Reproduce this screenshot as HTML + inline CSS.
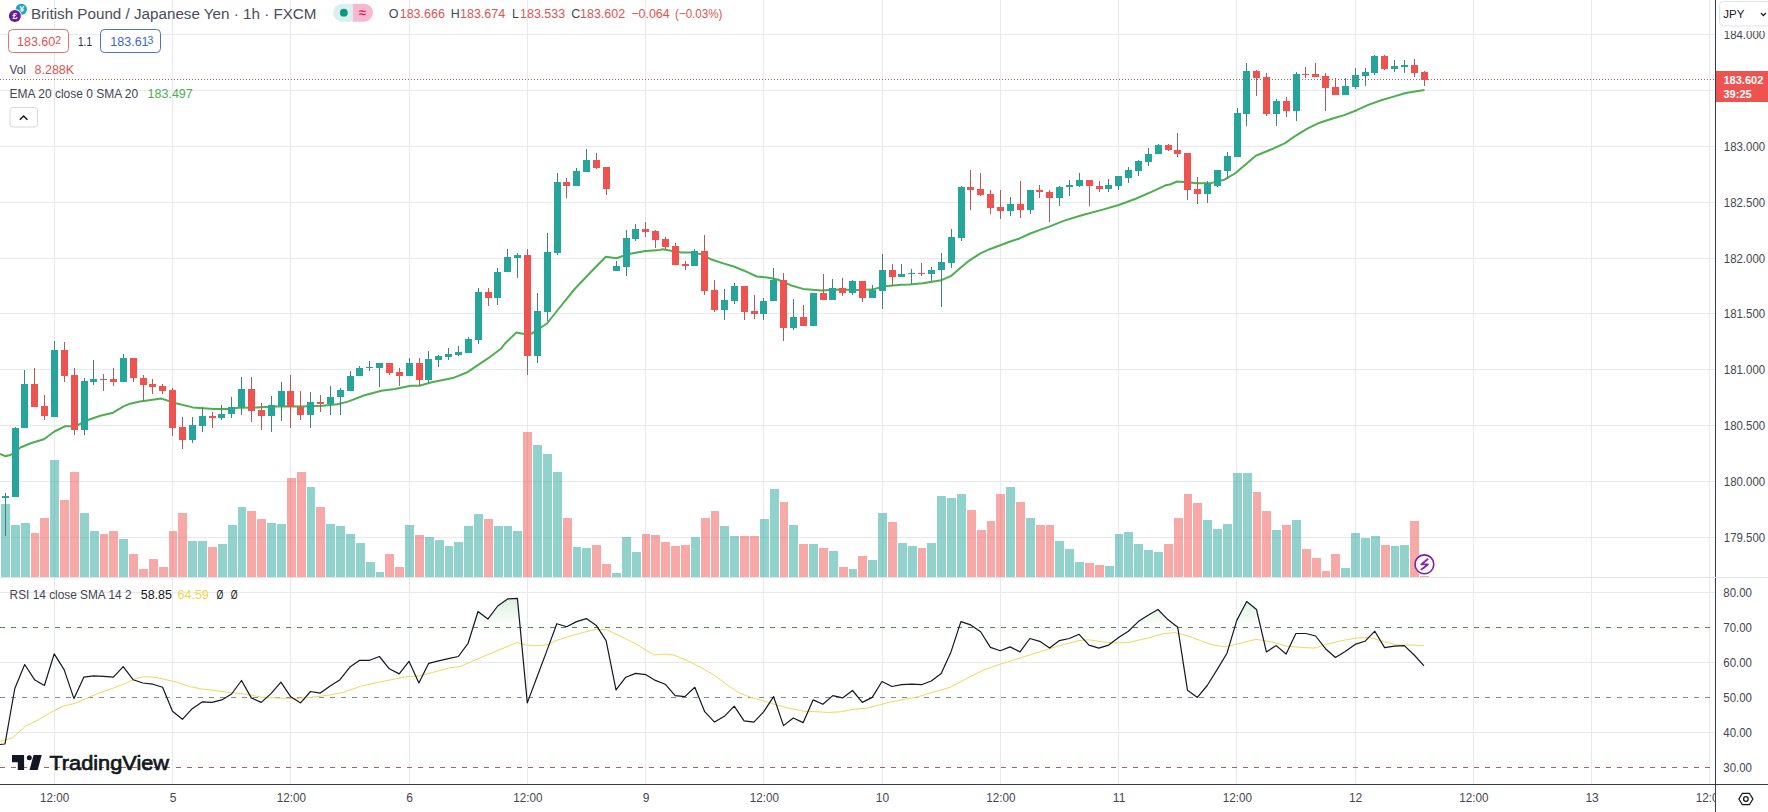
<!DOCTYPE html>
<html><head><meta charset="utf-8"><title>GBPJPY</title>
<style>html,body{margin:0;padding:0;background:#fff;}body{width:1768px;height:812px;overflow:hidden;position:relative;font-family:"Liberation Sans", sans-serif;}</style>
</head><body>
<svg width="1768" height="812" viewBox="0 0 1768 812" style="position:absolute;left:0;top:0"><defs><linearGradient id="gf" x1="0" y1="522" x2="0" y2="627.4" gradientUnits="userSpaceOnUse"><stop offset="0" stop-color="#4caf50" stop-opacity="0.7"/><stop offset="1" stop-color="#4caf50" stop-opacity="0"/></linearGradient><clipPath id="c70"><rect x="0" y="578" width="1715" height="49.5"/></clipPath><clipPath id="cmain"><rect x="0" y="0" width="1715" height="577"/></clipPath><clipPath id="crsi"><rect x="0" y="578" width="1715" height="206"/></clipPath></defs><g shape-rendering="crispEdges"><rect x="54" y="0" width="1" height="577" fill="#e8e9ed"/><rect x="54" y="578" width="1" height="206" fill="#e8e9ed"/><rect x="172" y="0" width="1" height="577" fill="#e8e9ed"/><rect x="172" y="578" width="1" height="206" fill="#e8e9ed"/><rect x="290" y="0" width="1" height="577" fill="#e8e9ed"/><rect x="290" y="578" width="1" height="206" fill="#e8e9ed"/><rect x="409" y="0" width="1" height="577" fill="#e8e9ed"/><rect x="409" y="578" width="1" height="206" fill="#e8e9ed"/><rect x="527" y="0" width="1" height="577" fill="#e8e9ed"/><rect x="527" y="578" width="1" height="206" fill="#e8e9ed"/><rect x="645" y="0" width="1" height="577" fill="#e8e9ed"/><rect x="645" y="578" width="1" height="206" fill="#e8e9ed"/><rect x="763" y="0" width="1" height="577" fill="#e8e9ed"/><rect x="763" y="578" width="1" height="206" fill="#e8e9ed"/><rect x="882" y="0" width="1" height="577" fill="#e8e9ed"/><rect x="882" y="578" width="1" height="206" fill="#e8e9ed"/><rect x="1000" y="0" width="1" height="577" fill="#e8e9ed"/><rect x="1000" y="578" width="1" height="206" fill="#e8e9ed"/><rect x="1118" y="0" width="1" height="577" fill="#e8e9ed"/><rect x="1118" y="578" width="1" height="206" fill="#e8e9ed"/><rect x="1236" y="0" width="1" height="577" fill="#e8e9ed"/><rect x="1236" y="578" width="1" height="206" fill="#e8e9ed"/><rect x="1355" y="0" width="1" height="577" fill="#e8e9ed"/><rect x="1355" y="578" width="1" height="206" fill="#e8e9ed"/><rect x="1473" y="0" width="1" height="577" fill="#e8e9ed"/><rect x="1473" y="578" width="1" height="206" fill="#e8e9ed"/><rect x="1591" y="0" width="1" height="577" fill="#e8e9ed"/><rect x="1591" y="578" width="1" height="206" fill="#e8e9ed"/><rect x="1709" y="0" width="1" height="577" fill="#e8e9ed"/><rect x="1709" y="578" width="1" height="206" fill="#e8e9ed"/><rect x="0" y="34" width="1715" height="1" fill="#e8e9ed"/><rect x="0" y="90" width="1715" height="1" fill="#e8e9ed"/><rect x="0" y="146" width="1715" height="1" fill="#e8e9ed"/><rect x="0" y="202" width="1715" height="1" fill="#e8e9ed"/><rect x="0" y="258" width="1715" height="1" fill="#e8e9ed"/><rect x="0" y="313" width="1715" height="1" fill="#e8e9ed"/><rect x="0" y="369" width="1715" height="1" fill="#e8e9ed"/><rect x="0" y="425" width="1715" height="1" fill="#e8e9ed"/><rect x="0" y="481" width="1715" height="1" fill="#e8e9ed"/><rect x="0" y="537" width="1715" height="1" fill="#e8e9ed"/><rect x="0" y="592" width="1715" height="1" fill="#e8e9ed"/><rect x="0" y="662" width="1715" height="1" fill="#e8e9ed"/><rect x="0" y="732" width="1715" height="1" fill="#e8e9ed"/></g><g shape-rendering="crispEdges" clip-path="url(#cmain)"><rect x="1" y="504" width="9" height="73" fill="rgba(38,166,154,0.5)"/><rect x="11" y="525" width="9" height="52" fill="rgba(38,166,154,0.5)"/><rect x="21" y="523" width="9" height="54" fill="rgba(38,166,154,0.5)"/><rect x="31" y="533" width="8" height="44" fill="rgba(239,83,80,0.5)"/><rect x="40" y="518" width="9" height="59" fill="rgba(239,83,80,0.5)"/><rect x="50" y="460" width="9" height="117" fill="rgba(38,166,154,0.5)"/><rect x="60" y="500" width="9" height="77" fill="rgba(239,83,80,0.5)"/><rect x="70" y="472" width="9" height="105" fill="rgba(239,83,80,0.5)"/><rect x="80" y="513" width="9" height="64" fill="rgba(38,166,154,0.5)"/><rect x="90" y="531" width="9" height="46" fill="rgba(38,166,154,0.5)"/><rect x="100" y="534" width="8" height="43" fill="rgba(239,83,80,0.5)"/><rect x="109" y="531" width="9" height="46" fill="rgba(239,83,80,0.5)"/><rect x="119" y="539" width="9" height="38" fill="rgba(38,166,154,0.5)"/><rect x="129" y="554" width="9" height="23" fill="rgba(239,83,80,0.5)"/><rect x="139" y="569" width="9" height="8" fill="rgba(239,83,80,0.5)"/><rect x="149" y="559" width="9" height="18" fill="rgba(239,83,80,0.5)"/><rect x="159" y="567" width="9" height="10" fill="rgba(239,83,80,0.5)"/><rect x="169" y="531" width="8" height="46" fill="rgba(239,83,80,0.5)"/><rect x="178" y="513" width="9" height="64" fill="rgba(239,83,80,0.5)"/><rect x="188" y="541" width="9" height="36" fill="rgba(38,166,154,0.5)"/><rect x="198" y="541" width="9" height="36" fill="rgba(38,166,154,0.5)"/><rect x="208" y="547" width="9" height="30" fill="rgba(239,83,80,0.5)"/><rect x="218" y="544" width="9" height="33" fill="rgba(38,166,154,0.5)"/><rect x="228" y="525" width="9" height="52" fill="rgba(38,166,154,0.5)"/><rect x="238" y="507" width="8" height="70" fill="rgba(38,166,154,0.5)"/><rect x="247" y="511" width="9" height="66" fill="rgba(239,83,80,0.5)"/><rect x="257" y="519" width="9" height="58" fill="rgba(239,83,80,0.5)"/><rect x="267" y="523" width="9" height="54" fill="rgba(38,166,154,0.5)"/><rect x="277" y="524" width="9" height="53" fill="rgba(38,166,154,0.5)"/><rect x="287" y="478" width="9" height="99" fill="rgba(239,83,80,0.5)"/><rect x="297" y="472" width="9" height="105" fill="rgba(239,83,80,0.5)"/><rect x="307" y="487" width="8" height="90" fill="rgba(38,166,154,0.5)"/><rect x="316" y="507" width="9" height="70" fill="rgba(239,83,80,0.5)"/><rect x="326" y="524" width="9" height="53" fill="rgba(38,166,154,0.5)"/><rect x="336" y="526" width="9" height="51" fill="rgba(38,166,154,0.5)"/><rect x="346" y="534" width="9" height="43" fill="rgba(38,166,154,0.5)"/><rect x="356" y="543" width="9" height="34" fill="rgba(38,166,154,0.5)"/><rect x="366" y="562" width="9" height="15" fill="rgba(38,166,154,0.5)"/><rect x="376" y="572" width="8" height="5" fill="rgba(38,166,154,0.5)"/><rect x="385" y="554" width="9" height="23" fill="rgba(239,83,80,0.5)"/><rect x="395" y="567" width="9" height="10" fill="rgba(239,83,80,0.5)"/><rect x="405" y="525" width="9" height="52" fill="rgba(38,166,154,0.5)"/><rect x="415" y="535" width="9" height="42" fill="rgba(239,83,80,0.5)"/><rect x="425" y="537" width="9" height="40" fill="rgba(38,166,154,0.5)"/><rect x="435" y="540" width="9" height="37" fill="rgba(38,166,154,0.5)"/><rect x="445" y="546" width="8" height="31" fill="rgba(38,166,154,0.5)"/><rect x="454" y="542" width="9" height="35" fill="rgba(38,166,154,0.5)"/><rect x="464" y="526" width="9" height="51" fill="rgba(38,166,154,0.5)"/><rect x="474" y="514" width="9" height="63" fill="rgba(38,166,154,0.5)"/><rect x="484" y="519" width="9" height="58" fill="rgba(239,83,80,0.5)"/><rect x="494" y="526" width="9" height="51" fill="rgba(38,166,154,0.5)"/><rect x="504" y="526" width="8" height="51" fill="rgba(38,166,154,0.5)"/><rect x="513" y="531" width="9" height="46" fill="rgba(38,166,154,0.5)"/><rect x="523" y="432" width="9" height="145" fill="rgba(239,83,80,0.5)"/><rect x="533" y="445" width="9" height="132" fill="rgba(38,166,154,0.5)"/><rect x="543" y="454" width="9" height="123" fill="rgba(38,166,154,0.5)"/><rect x="553" y="472" width="9" height="105" fill="rgba(38,166,154,0.5)"/><rect x="563" y="518" width="9" height="59" fill="rgba(239,83,80,0.5)"/><rect x="573" y="547" width="8" height="30" fill="rgba(38,166,154,0.5)"/><rect x="582" y="548" width="9" height="29" fill="rgba(38,166,154,0.5)"/><rect x="592" y="545" width="9" height="32" fill="rgba(239,83,80,0.5)"/><rect x="602" y="564" width="9" height="13" fill="rgba(239,83,80,0.5)"/><rect x="612" y="573" width="9" height="4" fill="rgba(38,166,154,0.5)"/><rect x="622" y="537" width="9" height="40" fill="rgba(38,166,154,0.5)"/><rect x="632" y="552" width="9" height="25" fill="rgba(38,166,154,0.5)"/><rect x="642" y="534" width="8" height="43" fill="rgba(239,83,80,0.5)"/><rect x="651" y="535" width="9" height="42" fill="rgba(239,83,80,0.5)"/><rect x="661" y="542" width="9" height="35" fill="rgba(239,83,80,0.5)"/><rect x="671" y="546" width="9" height="31" fill="rgba(239,83,80,0.5)"/><rect x="681" y="545" width="9" height="32" fill="rgba(239,83,80,0.5)"/><rect x="691" y="537" width="9" height="40" fill="rgba(38,166,154,0.5)"/><rect x="701" y="518" width="9" height="59" fill="rgba(239,83,80,0.5)"/><rect x="711" y="511" width="8" height="66" fill="rgba(239,83,80,0.5)"/><rect x="720" y="526" width="9" height="51" fill="rgba(38,166,154,0.5)"/><rect x="730" y="536" width="9" height="41" fill="rgba(38,166,154,0.5)"/><rect x="740" y="536" width="9" height="41" fill="rgba(239,83,80,0.5)"/><rect x="750" y="536" width="9" height="41" fill="rgba(239,83,80,0.5)"/><rect x="760" y="519" width="9" height="58" fill="rgba(38,166,154,0.5)"/><rect x="770" y="489" width="9" height="88" fill="rgba(38,166,154,0.5)"/><rect x="780" y="502" width="8" height="75" fill="rgba(239,83,80,0.5)"/><rect x="789" y="525" width="9" height="52" fill="rgba(38,166,154,0.5)"/><rect x="799" y="544" width="9" height="33" fill="rgba(239,83,80,0.5)"/><rect x="809" y="544" width="9" height="33" fill="rgba(38,166,154,0.5)"/><rect x="819" y="548" width="9" height="29" fill="rgba(239,83,80,0.5)"/><rect x="829" y="551" width="9" height="26" fill="rgba(38,166,154,0.5)"/><rect x="839" y="567" width="9" height="10" fill="rgba(239,83,80,0.5)"/><rect x="849" y="569" width="8" height="8" fill="rgba(38,166,154,0.5)"/><rect x="858" y="556" width="9" height="21" fill="rgba(239,83,80,0.5)"/><rect x="868" y="560" width="9" height="17" fill="rgba(38,166,154,0.5)"/><rect x="878" y="513" width="9" height="64" fill="rgba(38,166,154,0.5)"/><rect x="888" y="522" width="9" height="55" fill="rgba(239,83,80,0.5)"/><rect x="898" y="543" width="9" height="34" fill="rgba(38,166,154,0.5)"/><rect x="908" y="546" width="9" height="31" fill="rgba(38,166,154,0.5)"/><rect x="918" y="548" width="8" height="29" fill="rgba(239,83,80,0.5)"/><rect x="927" y="543" width="9" height="34" fill="rgba(38,166,154,0.5)"/><rect x="937" y="496" width="9" height="81" fill="rgba(38,166,154,0.5)"/><rect x="947" y="498" width="9" height="79" fill="rgba(38,166,154,0.5)"/><rect x="957" y="494" width="9" height="83" fill="rgba(38,166,154,0.5)"/><rect x="967" y="510" width="9" height="67" fill="rgba(239,83,80,0.5)"/><rect x="977" y="530" width="9" height="47" fill="rgba(239,83,80,0.5)"/><rect x="987" y="521" width="8" height="56" fill="rgba(239,83,80,0.5)"/><rect x="996" y="494" width="9" height="83" fill="rgba(239,83,80,0.5)"/><rect x="1006" y="487" width="9" height="90" fill="rgba(38,166,154,0.5)"/><rect x="1016" y="502" width="9" height="75" fill="rgba(239,83,80,0.5)"/><rect x="1026" y="518" width="9" height="59" fill="rgba(38,166,154,0.5)"/><rect x="1036" y="525" width="9" height="52" fill="rgba(239,83,80,0.5)"/><rect x="1046" y="525" width="8" height="52" fill="rgba(239,83,80,0.5)"/><rect x="1055" y="541" width="9" height="36" fill="rgba(38,166,154,0.5)"/><rect x="1065" y="549" width="9" height="28" fill="rgba(38,166,154,0.5)"/><rect x="1075" y="562" width="9" height="15" fill="rgba(38,166,154,0.5)"/><rect x="1085" y="563" width="9" height="14" fill="rgba(239,83,80,0.5)"/><rect x="1095" y="565" width="9" height="12" fill="rgba(239,83,80,0.5)"/><rect x="1105" y="566" width="9" height="11" fill="rgba(38,166,154,0.5)"/><rect x="1115" y="534" width="8" height="43" fill="rgba(38,166,154,0.5)"/><rect x="1124" y="532" width="9" height="45" fill="rgba(38,166,154,0.5)"/><rect x="1134" y="544" width="9" height="33" fill="rgba(38,166,154,0.5)"/><rect x="1144" y="550" width="9" height="27" fill="rgba(38,166,154,0.5)"/><rect x="1154" y="552" width="9" height="25" fill="rgba(38,166,154,0.5)"/><rect x="1164" y="544" width="9" height="33" fill="rgba(239,83,80,0.5)"/><rect x="1174" y="518" width="9" height="59" fill="rgba(239,83,80,0.5)"/><rect x="1184" y="494" width="8" height="83" fill="rgba(239,83,80,0.5)"/><rect x="1193" y="503" width="9" height="74" fill="rgba(239,83,80,0.5)"/><rect x="1203" y="520" width="9" height="57" fill="rgba(38,166,154,0.5)"/><rect x="1213" y="529" width="9" height="48" fill="rgba(38,166,154,0.5)"/><rect x="1223" y="524" width="9" height="53" fill="rgba(38,166,154,0.5)"/><rect x="1233" y="473" width="9" height="104" fill="rgba(38,166,154,0.5)"/><rect x="1243" y="473" width="9" height="104" fill="rgba(38,166,154,0.5)"/><rect x="1253" y="492" width="8" height="85" fill="rgba(239,83,80,0.5)"/><rect x="1262" y="511" width="9" height="66" fill="rgba(239,83,80,0.5)"/><rect x="1272" y="530" width="9" height="47" fill="rgba(38,166,154,0.5)"/><rect x="1282" y="525" width="9" height="52" fill="rgba(239,83,80,0.5)"/><rect x="1292" y="520" width="9" height="57" fill="rgba(38,166,154,0.5)"/><rect x="1302" y="549" width="9" height="28" fill="rgba(239,83,80,0.5)"/><rect x="1312" y="558" width="9" height="19" fill="rgba(239,83,80,0.5)"/><rect x="1322" y="571" width="8" height="6" fill="rgba(239,83,80,0.5)"/><rect x="1331" y="554" width="9" height="23" fill="rgba(239,83,80,0.5)"/><rect x="1341" y="568" width="9" height="9" fill="rgba(38,166,154,0.5)"/><rect x="1351" y="533" width="9" height="44" fill="rgba(38,166,154,0.5)"/><rect x="1361" y="538" width="9" height="39" fill="rgba(38,166,154,0.5)"/><rect x="1371" y="536" width="9" height="41" fill="rgba(38,166,154,0.5)"/><rect x="1381" y="545" width="9" height="32" fill="rgba(239,83,80,0.5)"/><rect x="1391" y="546" width="8" height="31" fill="rgba(38,166,154,0.5)"/><rect x="1400" y="545" width="9" height="32" fill="rgba(38,166,154,0.5)"/><rect x="1410" y="521" width="9" height="56" fill="rgba(239,83,80,0.5)"/><rect x="1420" y="576" width="9" height="1" fill="rgba(239,83,80,0.5)"/></g><polyline points="0.0,453.9 5.2,456.2 10.5,455.0 20.9,447.2 31.4,443.0 43.9,439.2 54.4,431.5 64.9,426.3 75.3,426.3 87.9,420.0 100.4,415.8 113.0,412.7 123.5,406.4 130.0,403.7 140.0,401.6 161.4,398.6 176.0,403.2 192.8,407.4 213.7,408.9 228.0,409.0 238.8,407.8 255.5,407.4 281.0,406.2 301.8,406.4 322.8,405.8 337.4,404.3 347.9,401.6 364.6,395.3 381.4,390.7 395.0,389.0 410.9,385.8 419.3,385.8 431.8,382.3 452.8,378.1 467.4,372.2 477.9,365.1 488.3,358.2 500.9,348.8 505.0,343.5 516.4,332.4 524.0,334.0 531.7,333.6 547.0,323.5 557.7,310.0 574.7,289.0 591.1,271.8 605.8,256.8 616.3,258.2 628.8,254.0 645.5,250.9 660.0,249.9 662.6,249.3 671.0,250.8 681.4,252.5 691.8,252.5 700.2,253.9 710.7,259.2 723.2,263.4 733.7,266.5 744.2,270.7 756.7,276.5 767.2,277.4 777.6,279.5 790.5,285.2 803.0,288.9 821.8,290.4 838.6,289.6 855.3,290.0 872.0,289.6 884.6,286.2 901.4,284.7 910.0,284.5 922.6,283.3 941.4,280.2 950.8,276.2 960.2,268.1 969.6,260.3 980.0,253.6 989.6,249.2 1000.3,245.3 1011.7,241.0 1019.1,238.7 1030.2,233.5 1041.3,229.4 1048.7,226.9 1063.5,220.9 1081.8,215.2 1102.8,209.6 1119.5,204.7 1136.3,198.5 1150.9,192.2 1165.5,185.3 1170.0,184.5 1177.0,181.5 1186.7,182.2 1197.2,183.3 1211.8,182.9 1224.4,179.7 1234.9,173.5 1245.3,164.7 1255.8,155.7 1270.4,149.8 1285.1,143.1 1295.5,135.8 1307.3,128.7 1319.6,122.7 1331.9,118.8 1344.3,115.1 1356.6,110.2 1368.9,104.6 1381.2,100.3 1393.5,96.6 1405.8,93.0 1418.1,90.9 1424.5,89.9" fill="none" stroke="#4caf50" stroke-width="2" stroke-linejoin="round"/><g shape-rendering="crispEdges"><rect x="5" y="493" width="1" height="43" fill="#3f857e"/><rect x="2" y="496" width="7" height="2" fill="#26a69a"/><rect x="15" y="427" width="1" height="70" fill="#3f857e"/><rect x="12" y="428" width="7" height="69" fill="#26a69a"/><rect x="24" y="370" width="1" height="58" fill="#3f857e"/><rect x="21" y="384" width="7" height="44" fill="#26a69a"/><rect x="34" y="368" width="1" height="39" fill="#b05a5e"/><rect x="31" y="384" width="7" height="23" fill="#ef5350"/><rect x="44" y="395" width="1" height="25" fill="#b05a5e"/><rect x="41" y="406" width="7" height="10" fill="#ef5350"/><rect x="54" y="341" width="1" height="76" fill="#3f857e"/><rect x="51" y="350" width="7" height="67" fill="#26a69a"/><rect x="64" y="342" width="1" height="40" fill="#b05a5e"/><rect x="61" y="350" width="7" height="26" fill="#ef5350"/><rect x="74" y="368" width="1" height="67" fill="#b05a5e"/><rect x="71" y="375" width="7" height="55" fill="#ef5350"/><rect x="84" y="378" width="1" height="57" fill="#3f857e"/><rect x="81" y="381" width="7" height="49" fill="#26a69a"/><rect x="93" y="360" width="1" height="25" fill="#3f857e"/><rect x="90" y="379" width="7" height="3" fill="#26a69a"/><rect x="103" y="374" width="1" height="17" fill="#b05a5e"/><rect x="100" y="379" width="7" height="1" fill="#ef5350"/><rect x="113" y="368" width="1" height="18" fill="#b05a5e"/><rect x="110" y="379" width="7" height="3" fill="#ef5350"/><rect x="123" y="354" width="1" height="28" fill="#3f857e"/><rect x="120" y="358" width="7" height="24" fill="#26a69a"/><rect x="133" y="358" width="1" height="24" fill="#b05a5e"/><rect x="130" y="358" width="7" height="20" fill="#ef5350"/><rect x="143" y="375" width="1" height="26" fill="#b05a5e"/><rect x="140" y="378" width="7" height="7" fill="#ef5350"/><rect x="152" y="379" width="1" height="15" fill="#b05a5e"/><rect x="149" y="384" width="7" height="3" fill="#ef5350"/><rect x="162" y="384" width="1" height="10" fill="#b05a5e"/><rect x="159" y="386" width="7" height="5" fill="#ef5350"/><rect x="172" y="388" width="1" height="48" fill="#b05a5e"/><rect x="169" y="390" width="7" height="38" fill="#ef5350"/><rect x="182" y="417" width="1" height="32" fill="#b05a5e"/><rect x="179" y="427" width="7" height="13" fill="#ef5350"/><rect x="192" y="417" width="1" height="26" fill="#3f857e"/><rect x="189" y="425" width="7" height="15" fill="#26a69a"/><rect x="202" y="407" width="1" height="25" fill="#3f857e"/><rect x="199" y="416" width="7" height="10" fill="#26a69a"/><rect x="212" y="412" width="1" height="16" fill="#b05a5e"/><rect x="209" y="416" width="7" height="2" fill="#ef5350"/><rect x="221" y="405" width="1" height="15" fill="#3f857e"/><rect x="218" y="414" width="7" height="4" fill="#26a69a"/><rect x="231" y="397" width="1" height="21" fill="#3f857e"/><rect x="228" y="407" width="7" height="7" fill="#26a69a"/><rect x="241" y="377" width="1" height="38" fill="#3f857e"/><rect x="238" y="389" width="7" height="18" fill="#26a69a"/><rect x="251" y="377" width="1" height="45" fill="#b05a5e"/><rect x="248" y="389" width="7" height="22" fill="#ef5350"/><rect x="261" y="403" width="1" height="27" fill="#b05a5e"/><rect x="258" y="410" width="7" height="6" fill="#ef5350"/><rect x="271" y="396" width="1" height="36" fill="#3f857e"/><rect x="268" y="405" width="7" height="11" fill="#26a69a"/><rect x="281" y="382" width="1" height="39" fill="#3f857e"/><rect x="278" y="391" width="7" height="15" fill="#26a69a"/><rect x="290" y="375" width="1" height="53" fill="#b05a5e"/><rect x="287" y="391" width="7" height="16" fill="#ef5350"/><rect x="300" y="391" width="1" height="29" fill="#b05a5e"/><rect x="297" y="407" width="7" height="8" fill="#ef5350"/><rect x="310" y="392" width="1" height="36" fill="#3f857e"/><rect x="307" y="402" width="7" height="13" fill="#26a69a"/><rect x="320" y="395" width="1" height="17" fill="#b05a5e"/><rect x="317" y="402" width="7" height="2" fill="#ef5350"/><rect x="330" y="386" width="1" height="29" fill="#3f857e"/><rect x="327" y="397" width="7" height="7" fill="#26a69a"/><rect x="340" y="388" width="1" height="27" fill="#3f857e"/><rect x="337" y="390" width="7" height="7" fill="#26a69a"/><rect x="350" y="371" width="1" height="20" fill="#3f857e"/><rect x="347" y="376" width="7" height="15" fill="#26a69a"/><rect x="359" y="366" width="1" height="10" fill="#3f857e"/><rect x="356" y="368" width="7" height="8" fill="#26a69a"/><rect x="369" y="361" width="1" height="10" fill="#3f857e"/><rect x="366" y="367" width="7" height="1" fill="#26a69a"/><rect x="379" y="363" width="1" height="24" fill="#3f857e"/><rect x="376" y="363" width="7" height="5" fill="#26a69a"/><rect x="389" y="363" width="1" height="12" fill="#b05a5e"/><rect x="386" y="363" width="7" height="10" fill="#ef5350"/><rect x="399" y="368" width="1" height="18" fill="#b05a5e"/><rect x="396" y="372" width="7" height="4" fill="#ef5350"/><rect x="409" y="358" width="1" height="18" fill="#3f857e"/><rect x="406" y="363" width="7" height="13" fill="#26a69a"/><rect x="419" y="358" width="1" height="28" fill="#b05a5e"/><rect x="416" y="363" width="7" height="17" fill="#ef5350"/><rect x="428" y="351" width="1" height="32" fill="#3f857e"/><rect x="425" y="359" width="7" height="21" fill="#26a69a"/><rect x="438" y="355" width="1" height="12" fill="#3f857e"/><rect x="435" y="356" width="7" height="4" fill="#26a69a"/><rect x="448" y="348" width="1" height="12" fill="#3f857e"/><rect x="445" y="354" width="7" height="3" fill="#26a69a"/><rect x="458" y="346" width="1" height="10" fill="#3f857e"/><rect x="455" y="352" width="7" height="3" fill="#26a69a"/><rect x="468" y="337" width="1" height="16" fill="#3f857e"/><rect x="465" y="339" width="7" height="14" fill="#26a69a"/><rect x="478" y="288" width="1" height="56" fill="#3f857e"/><rect x="475" y="292" width="7" height="48" fill="#26a69a"/><rect x="488" y="288" width="1" height="18" fill="#b05a5e"/><rect x="485" y="292" width="7" height="6" fill="#ef5350"/><rect x="497" y="268" width="1" height="37" fill="#3f857e"/><rect x="494" y="272" width="7" height="26" fill="#26a69a"/><rect x="507" y="249" width="1" height="23" fill="#3f857e"/><rect x="504" y="257" width="7" height="15" fill="#26a69a"/><rect x="517" y="253" width="1" height="25" fill="#3f857e"/><rect x="514" y="255" width="7" height="3" fill="#26a69a"/><rect x="527" y="249" width="1" height="126" fill="#b05a5e"/><rect x="524" y="255" width="7" height="101" fill="#ef5350"/><rect x="537" y="293" width="1" height="70" fill="#3f857e"/><rect x="534" y="311" width="7" height="45" fill="#26a69a"/><rect x="547" y="233" width="1" height="88" fill="#3f857e"/><rect x="544" y="252" width="7" height="60" fill="#26a69a"/><rect x="557" y="173" width="1" height="82" fill="#3f857e"/><rect x="554" y="182" width="7" height="71" fill="#26a69a"/><rect x="566" y="178" width="1" height="20" fill="#b05a5e"/><rect x="563" y="182" width="7" height="4" fill="#ef5350"/><rect x="576" y="168" width="1" height="18" fill="#3f857e"/><rect x="573" y="171" width="7" height="15" fill="#26a69a"/><rect x="586" y="149" width="1" height="23" fill="#3f857e"/><rect x="583" y="160" width="7" height="12" fill="#26a69a"/><rect x="596" y="153" width="1" height="16" fill="#b05a5e"/><rect x="593" y="160" width="7" height="8" fill="#ef5350"/><rect x="606" y="167" width="1" height="28" fill="#b05a5e"/><rect x="603" y="167" width="7" height="22" fill="#ef5350"/><rect x="616" y="261" width="1" height="10" fill="#3f857e"/><rect x="613" y="266" width="7" height="5" fill="#26a69a"/><rect x="626" y="230" width="1" height="46" fill="#3f857e"/><rect x="623" y="238" width="7" height="29" fill="#26a69a"/><rect x="635" y="224" width="1" height="17" fill="#3f857e"/><rect x="632" y="229" width="7" height="10" fill="#26a69a"/><rect x="645" y="222" width="1" height="15" fill="#b05a5e"/><rect x="642" y="229" width="7" height="3" fill="#ef5350"/><rect x="655" y="230" width="1" height="18" fill="#b05a5e"/><rect x="652" y="231" width="7" height="9" fill="#ef5350"/><rect x="665" y="237" width="1" height="12" fill="#b05a5e"/><rect x="662" y="239" width="7" height="8" fill="#ef5350"/><rect x="675" y="243" width="1" height="22" fill="#b05a5e"/><rect x="672" y="246" width="7" height="19" fill="#ef5350"/><rect x="685" y="261" width="1" height="9" fill="#b05a5e"/><rect x="682" y="264" width="7" height="2" fill="#ef5350"/><rect x="694" y="249" width="1" height="17" fill="#3f857e"/><rect x="691" y="251" width="7" height="15" fill="#26a69a"/><rect x="704" y="235" width="1" height="60" fill="#b05a5e"/><rect x="701" y="251" width="7" height="40" fill="#ef5350"/><rect x="714" y="280" width="1" height="32" fill="#b05a5e"/><rect x="711" y="290" width="7" height="20" fill="#ef5350"/><rect x="724" y="289" width="1" height="31" fill="#3f857e"/><rect x="721" y="300" width="7" height="10" fill="#26a69a"/><rect x="734" y="283" width="1" height="21" fill="#3f857e"/><rect x="731" y="286" width="7" height="15" fill="#26a69a"/><rect x="744" y="286" width="1" height="34" fill="#b05a5e"/><rect x="741" y="286" width="7" height="26" fill="#ef5350"/><rect x="754" y="295" width="1" height="24" fill="#b05a5e"/><rect x="751" y="311" width="7" height="3" fill="#ef5350"/><rect x="763" y="298" width="1" height="22" fill="#3f857e"/><rect x="760" y="301" width="7" height="13" fill="#26a69a"/><rect x="773" y="268" width="1" height="33" fill="#3f857e"/><rect x="770" y="280" width="7" height="21" fill="#26a69a"/><rect x="783" y="273" width="1" height="68" fill="#b05a5e"/><rect x="780" y="280" width="7" height="48" fill="#ef5350"/><rect x="793" y="299" width="1" height="31" fill="#3f857e"/><rect x="790" y="317" width="7" height="11" fill="#26a69a"/><rect x="803" y="305" width="1" height="21" fill="#b05a5e"/><rect x="800" y="317" width="7" height="9" fill="#ef5350"/><rect x="813" y="293" width="1" height="33" fill="#3f857e"/><rect x="810" y="293" width="7" height="33" fill="#26a69a"/><rect x="823" y="274" width="1" height="26" fill="#b05a5e"/><rect x="820" y="293" width="7" height="7" fill="#ef5350"/><rect x="832" y="279" width="1" height="21" fill="#3f857e"/><rect x="829" y="288" width="7" height="12" fill="#26a69a"/><rect x="842" y="278" width="1" height="18" fill="#b05a5e"/><rect x="839" y="288" width="7" height="5" fill="#ef5350"/><rect x="852" y="280" width="1" height="15" fill="#3f857e"/><rect x="849" y="281" width="7" height="12" fill="#26a69a"/><rect x="862" y="281" width="1" height="21" fill="#b05a5e"/><rect x="859" y="281" width="7" height="17" fill="#ef5350"/><rect x="872" y="285" width="1" height="13" fill="#3f857e"/><rect x="869" y="290" width="7" height="8" fill="#26a69a"/><rect x="882" y="254" width="1" height="55" fill="#3f857e"/><rect x="879" y="270" width="7" height="21" fill="#26a69a"/><rect x="892" y="264" width="1" height="22" fill="#b05a5e"/><rect x="889" y="270" width="7" height="7" fill="#ef5350"/><rect x="901" y="264" width="1" height="13" fill="#3f857e"/><rect x="898" y="274" width="7" height="3" fill="#26a69a"/><rect x="911" y="269" width="1" height="15" fill="#3f857e"/><rect x="908" y="273" width="7" height="1" fill="#26a69a"/><rect x="921" y="263" width="1" height="13" fill="#b05a5e"/><rect x="918" y="273" width="7" height="1" fill="#ef5350"/><rect x="931" y="267" width="1" height="14" fill="#3f857e"/><rect x="928" y="270" width="7" height="4" fill="#26a69a"/><rect x="941" y="253" width="1" height="54" fill="#3f857e"/><rect x="938" y="262" width="7" height="8" fill="#26a69a"/><rect x="951" y="229" width="1" height="39" fill="#3f857e"/><rect x="948" y="237" width="7" height="26" fill="#26a69a"/><rect x="961" y="186" width="1" height="55" fill="#3f857e"/><rect x="958" y="187" width="7" height="51" fill="#26a69a"/><rect x="970" y="170" width="1" height="40" fill="#b05a5e"/><rect x="967" y="187" width="7" height="3" fill="#ef5350"/><rect x="980" y="173" width="1" height="23" fill="#b05a5e"/><rect x="977" y="189" width="7" height="6" fill="#ef5350"/><rect x="990" y="190" width="1" height="24" fill="#b05a5e"/><rect x="987" y="194" width="7" height="14" fill="#ef5350"/><rect x="1000" y="190" width="1" height="29" fill="#b05a5e"/><rect x="997" y="207" width="7" height="4" fill="#ef5350"/><rect x="1010" y="197" width="1" height="19" fill="#3f857e"/><rect x="1007" y="204" width="7" height="7" fill="#26a69a"/><rect x="1020" y="181" width="1" height="37" fill="#b05a5e"/><rect x="1017" y="204" width="7" height="6" fill="#ef5350"/><rect x="1030" y="190" width="1" height="24" fill="#3f857e"/><rect x="1027" y="190" width="7" height="20" fill="#26a69a"/><rect x="1039" y="185" width="1" height="13" fill="#b05a5e"/><rect x="1036" y="190" width="7" height="2" fill="#ef5350"/><rect x="1049" y="190" width="1" height="32" fill="#b05a5e"/><rect x="1046" y="192" width="7" height="6" fill="#ef5350"/><rect x="1059" y="186" width="1" height="20" fill="#3f857e"/><rect x="1056" y="187" width="7" height="11" fill="#26a69a"/><rect x="1069" y="180" width="1" height="16" fill="#3f857e"/><rect x="1066" y="185" width="7" height="2" fill="#26a69a"/><rect x="1079" y="173" width="1" height="14" fill="#3f857e"/><rect x="1076" y="180" width="7" height="6" fill="#26a69a"/><rect x="1089" y="180" width="1" height="26" fill="#b05a5e"/><rect x="1086" y="180" width="7" height="6" fill="#ef5350"/><rect x="1099" y="181" width="1" height="11" fill="#b05a5e"/><rect x="1096" y="186" width="7" height="3" fill="#ef5350"/><rect x="1108" y="179" width="1" height="13" fill="#3f857e"/><rect x="1105" y="185" width="7" height="4" fill="#26a69a"/><rect x="1118" y="176" width="1" height="14" fill="#3f857e"/><rect x="1115" y="176" width="7" height="10" fill="#26a69a"/><rect x="1128" y="167" width="1" height="16" fill="#3f857e"/><rect x="1125" y="170" width="7" height="8" fill="#26a69a"/><rect x="1138" y="160" width="1" height="16" fill="#3f857e"/><rect x="1135" y="161" width="7" height="10" fill="#26a69a"/><rect x="1148" y="148" width="1" height="18" fill="#3f857e"/><rect x="1145" y="154" width="7" height="8" fill="#26a69a"/><rect x="1158" y="144" width="1" height="10" fill="#3f857e"/><rect x="1155" y="145" width="7" height="9" fill="#26a69a"/><rect x="1168" y="144" width="1" height="7" fill="#b05a5e"/><rect x="1165" y="145" width="7" height="5" fill="#ef5350"/><rect x="1177" y="133" width="1" height="24" fill="#b05a5e"/><rect x="1174" y="150" width="7" height="4" fill="#ef5350"/><rect x="1187" y="153" width="1" height="47" fill="#b05a5e"/><rect x="1184" y="153" width="7" height="37" fill="#ef5350"/><rect x="1197" y="177" width="1" height="27" fill="#b05a5e"/><rect x="1194" y="189" width="7" height="5" fill="#ef5350"/><rect x="1207" y="181" width="1" height="22" fill="#3f857e"/><rect x="1204" y="184" width="7" height="10" fill="#26a69a"/><rect x="1217" y="170" width="1" height="17" fill="#3f857e"/><rect x="1214" y="170" width="7" height="16" fill="#26a69a"/><rect x="1227" y="152" width="1" height="27" fill="#3f857e"/><rect x="1224" y="156" width="7" height="15" fill="#26a69a"/><rect x="1237" y="108" width="1" height="49" fill="#3f857e"/><rect x="1234" y="113" width="7" height="44" fill="#26a69a"/><rect x="1246" y="63" width="1" height="63" fill="#3f857e"/><rect x="1243" y="71" width="7" height="43" fill="#26a69a"/><rect x="1256" y="70" width="1" height="26" fill="#b05a5e"/><rect x="1253" y="71" width="7" height="7" fill="#ef5350"/><rect x="1266" y="73" width="1" height="43" fill="#b05a5e"/><rect x="1263" y="77" width="7" height="37" fill="#ef5350"/><rect x="1276" y="99" width="1" height="27" fill="#3f857e"/><rect x="1273" y="101" width="7" height="13" fill="#26a69a"/><rect x="1286" y="97" width="1" height="20" fill="#b05a5e"/><rect x="1283" y="101" width="7" height="10" fill="#ef5350"/><rect x="1296" y="72" width="1" height="49" fill="#3f857e"/><rect x="1293" y="74" width="7" height="37" fill="#26a69a"/><rect x="1305" y="67" width="1" height="11" fill="#b05a5e"/><rect x="1302" y="74" width="7" height="1" fill="#ef5350"/><rect x="1315" y="63" width="1" height="14" fill="#b05a5e"/><rect x="1312" y="74" width="7" height="3" fill="#ef5350"/><rect x="1325" y="73" width="1" height="38" fill="#b05a5e"/><rect x="1322" y="76" width="7" height="12" fill="#ef5350"/><rect x="1335" y="78" width="1" height="17" fill="#b05a5e"/><rect x="1332" y="87" width="7" height="8" fill="#ef5350"/><rect x="1345" y="78" width="1" height="17" fill="#3f857e"/><rect x="1342" y="86" width="7" height="9" fill="#26a69a"/><rect x="1355" y="68" width="1" height="21" fill="#3f857e"/><rect x="1352" y="75" width="7" height="12" fill="#26a69a"/><rect x="1365" y="68" width="1" height="18" fill="#3f857e"/><rect x="1362" y="72" width="7" height="4" fill="#26a69a"/><rect x="1374" y="55" width="1" height="20" fill="#3f857e"/><rect x="1371" y="56" width="7" height="17" fill="#26a69a"/><rect x="1384" y="55" width="1" height="15" fill="#b05a5e"/><rect x="1381" y="56" width="7" height="13" fill="#ef5350"/><rect x="1394" y="60" width="1" height="12" fill="#3f857e"/><rect x="1391" y="66" width="7" height="3" fill="#26a69a"/><rect x="1404" y="60" width="1" height="13" fill="#3f857e"/><rect x="1401" y="65" width="7" height="2" fill="#26a69a"/><rect x="1414" y="59" width="1" height="18" fill="#b05a5e"/><rect x="1411" y="65" width="7" height="8" fill="#ef5350"/><rect x="1424" y="71" width="1" height="15" fill="#b05a5e"/><rect x="1421" y="72" width="7" height="8" fill="#ef5350"/></g><g clip-path="url(#crsi)"><path d="M-4.9,627.5 L-4.9,745.0 L5.0,744.0 L14.8,688.5 L24.7,664.5 L34.5,679.7 L44.4,685.5 L54.2,653.9 L64.1,669.6 L74.0,698.6 L83.8,677.2 L93.7,675.9 L103.5,676.4 L113.4,677.2 L123.2,666.6 L133.1,679.7 L142.9,683.0 L152.8,684.2 L162.6,687.3 L172.5,711.2 L182.4,719.3 L192.2,708.7 L202.1,701.9 L211.9,702.4 L221.8,699.9 L231.6,694.0 L241.5,680.5 L251.3,697.9 L261.2,702.4 L271.0,693.6 L280.9,682.2 L290.8,696.8 L300.6,702.9 L310.5,691.5 L320.3,693.1 L330.2,686.0 L340.0,679.7 L349.9,667.1 L359.7,660.3 L369.6,660.3 L379.4,656.5 L389.3,668.8 L399.2,673.9 L409.0,661.3 L418.9,683.0 L428.7,663.3 L438.6,660.8 L448.4,658.7 L458.3,656.5 L468.1,643.3 L478.0,611.5 L487.9,619.1 L497.7,606.0 L507.6,598.9 L517.4,598.4 L527.3,702.9 L537.1,676.8 L547.0,650.4 L556.8,623.7 L566.7,626.7 L576.5,621.6 L586.4,618.6 L596.3,625.4 L606.1,640.6 L616.0,689.8 L625.8,677.2 L635.7,673.4 L645.5,674.6 L655.4,680.4 L665.2,684.2 L675.1,695.6 L684.9,696.6 L694.8,687.3 L704.7,711.7 L714.5,722.1 L724.4,716.3 L734.2,706.2 L744.1,720.8 L753.9,722.1 L763.8,711.7 L773.6,696.6 L783.5,725.6 L793.3,718.0 L803.2,722.6 L813.1,699.9 L822.9,704.2 L832.8,695.6 L842.6,697.9 L852.5,690.5 L862.3,702.4 L872.2,697.4 L882.0,681.5 L891.9,686.5 L901.7,684.7 L911.6,684.2 L921.5,684.7 L931.3,681.0 L941.2,673.4 L951.0,651.9 L960.9,621.6 L970.7,624.9 L980.6,631.7 L990.4,647.4 L1000.3,650.7 L1010.1,646.9 L1020.0,651.9 L1029.9,638.5 L1039.7,641.3 L1049.6,648.1 L1059.4,640.6 L1069.3,638.5 L1079.1,634.3 L1089.0,645.1 L1098.8,648.1 L1108.7,645.1 L1118.6,637.5 L1128.4,631.2 L1138.3,621.6 L1148.1,615.3 L1158.0,609.5 L1167.8,619.6 L1177.7,627.2 L1187.5,690.3 L1197.4,697.4 L1207.2,685.5 L1217.1,669.6 L1227.0,653.2 L1236.8,620.4 L1246.7,601.5 L1256.5,609.5 L1266.4,651.9 L1276.2,645.6 L1286.1,654.0 L1295.9,633.5 L1305.8,633.5 L1315.6,636.0 L1325.5,648.7 L1335.4,657.5 L1345.2,651.4 L1355.1,644.4 L1364.9,641.3 L1374.8,631.2 L1384.6,647.6 L1394.5,646.1 L1404.3,645.6 L1414.2,655.0 L1424.0,665.8 L1424.0,627.5 Z" fill="url(#gf)" clip-path="url(#c70)"/><line x1="0" y1="627.5" x2="1715" y2="627.5" stroke="#4f8a55" stroke-width="1" stroke-dasharray="5 6"/><line x1="0" y1="697.5" x2="1715" y2="697.5" stroke="#868991" stroke-width="1" stroke-dasharray="5 6"/><line x1="0" y1="767.5" x2="1715" y2="767.5" stroke="#c45656" stroke-width="1" stroke-dasharray="5 6"/><polyline points="0.0,741.5 12.6,737.7 25.2,726.4 37.9,720.0 50.5,712.5 63.1,706.2 75.7,703.2 88.3,697.4 101.0,692.3 113.6,688.0 126.2,683.0 136.3,678.4 143.8,676.7 154.0,677.2 164.0,679.2 176.7,682.2 189.3,686.5 201.9,689.0 214.5,690.3 227.1,692.3 242.6,693.6 262.8,697.4 280.5,698.1 293.1,698.6 310.8,697.4 331.0,694.8 343.6,692.3 361.2,686.0 381.4,681.7 406.7,676.7 419.3,675.9 431.9,672.6 449.6,667.8 460.0,666.6 485.2,655.7 516.8,642.6 525.6,644.9 535.7,645.6 547.0,644.9 555.9,640.6 573.6,635.0 596.3,629.2 606.4,629.7 624.0,638.0 636.7,644.4 654.3,655.0 664.4,654.0 674.5,655.2 688.0,661.0 701.0,667.5 715.2,675.9 727.9,685.5 740.5,693.6 753.1,698.1 765.7,701.6 778.3,705.4 791.0,708.7 803.6,711.2 816.2,711.7 828.8,712.5 841.4,711.7 854.0,709.2 866.7,708.2 879.3,704.9 891.9,701.6 904.5,699.4 918.0,696.8 932.6,692.3 950.3,687.3 965.4,679.2 983.1,670.1 1000.8,664.0 1021.0,657.7 1041.1,651.4 1061.3,645.1 1079.0,640.6 1089.1,639.8 1101.7,641.8 1116.8,643.1 1129.5,642.3 1142.1,639.3 1150.0,637.5 1162.6,633.8 1175.2,632.5 1187.9,636.0 1200.5,640.6 1213.1,645.1 1225.7,646.9 1238.3,643.6 1256.0,639.3 1271.2,641.8 1286.3,646.1 1301.4,647.4 1314.1,648.1 1326.7,644.4 1341.8,640.6 1357.0,638.0 1369.6,637.5 1384.7,641.8 1397.3,644.9 1412.5,645.1 1423.9,645.6" fill="none" stroke="#f0d85a" stroke-width="1"/><polyline points="-4.9,745.0 5.0,744.0 14.8,688.5 24.7,664.5 34.5,679.7 44.4,685.5 54.2,653.9 64.1,669.6 74.0,698.6 83.8,677.2 93.7,675.9 103.5,676.4 113.4,677.2 123.2,666.6 133.1,679.7 142.9,683.0 152.8,684.2 162.6,687.3 172.5,711.2 182.4,719.3 192.2,708.7 202.1,701.9 211.9,702.4 221.8,699.9 231.6,694.0 241.5,680.5 251.3,697.9 261.2,702.4 271.0,693.6 280.9,682.2 290.8,696.8 300.6,702.9 310.5,691.5 320.3,693.1 330.2,686.0 340.0,679.7 349.9,667.1 359.7,660.3 369.6,660.3 379.4,656.5 389.3,668.8 399.2,673.9 409.0,661.3 418.9,683.0 428.7,663.3 438.6,660.8 448.4,658.7 458.3,656.5 468.1,643.3 478.0,611.5 487.9,619.1 497.7,606.0 507.6,598.9 517.4,598.4 527.3,702.9 537.1,676.8 547.0,650.4 556.8,623.7 566.7,626.7 576.5,621.6 586.4,618.6 596.3,625.4 606.1,640.6 616.0,689.8 625.8,677.2 635.7,673.4 645.5,674.6 655.4,680.4 665.2,684.2 675.1,695.6 684.9,696.6 694.8,687.3 704.7,711.7 714.5,722.1 724.4,716.3 734.2,706.2 744.1,720.8 753.9,722.1 763.8,711.7 773.6,696.6 783.5,725.6 793.3,718.0 803.2,722.6 813.1,699.9 822.9,704.2 832.8,695.6 842.6,697.9 852.5,690.5 862.3,702.4 872.2,697.4 882.0,681.5 891.9,686.5 901.7,684.7 911.6,684.2 921.5,684.7 931.3,681.0 941.2,673.4 951.0,651.9 960.9,621.6 970.7,624.9 980.6,631.7 990.4,647.4 1000.3,650.7 1010.1,646.9 1020.0,651.9 1029.9,638.5 1039.7,641.3 1049.6,648.1 1059.4,640.6 1069.3,638.5 1079.1,634.3 1089.0,645.1 1098.8,648.1 1108.7,645.1 1118.6,637.5 1128.4,631.2 1138.3,621.6 1148.1,615.3 1158.0,609.5 1167.8,619.6 1177.7,627.2 1187.5,690.3 1197.4,697.4 1207.2,685.5 1217.1,669.6 1227.0,653.2 1236.8,620.4 1246.7,601.5 1256.5,609.5 1266.4,651.9 1276.2,645.6 1286.1,654.0 1295.9,633.5 1305.8,633.5 1315.6,636.0 1325.5,648.7 1335.4,657.5 1345.2,651.4 1355.1,644.4 1364.9,641.3 1374.8,631.2 1384.6,647.6 1394.5,646.1 1404.3,645.6 1414.2,655.0 1424.0,665.8" fill="none" stroke="#131722" stroke-width="1.2" stroke-linejoin="round"/></g><g shape-rendering="crispEdges"><rect x="1715" y="0" width="1" height="812" fill="#363a45"/><rect x="0" y="784" width="1768" height="1" fill="#363a45"/><rect x="0" y="577" width="1768" height="1" fill="#e0e3eb"/></g><line x1="0" y1="79.5" x2="1715" y2="79.5" stroke="#b55a58" stroke-width="1" stroke-dasharray="1 2"/><g font-family='"Liberation Sans", sans-serif' font-size="12.5" fill="#434651"><text x="1723.8" y="38.9" textLength="41.3" lengthAdjust="spacingAndGlyphs">184.000</text><text x="1723.8" y="150.9" textLength="41.3" lengthAdjust="spacingAndGlyphs">183.000</text><text x="1723.8" y="206.9" textLength="41.3" lengthAdjust="spacingAndGlyphs">182.500</text><text x="1723.8" y="262.9" textLength="41.3" lengthAdjust="spacingAndGlyphs">182.000</text><text x="1723.8" y="317.9" textLength="41.3" lengthAdjust="spacingAndGlyphs">181.500</text><text x="1723.8" y="373.9" textLength="41.3" lengthAdjust="spacingAndGlyphs">181.000</text><text x="1723.8" y="429.9" textLength="41.3" lengthAdjust="spacingAndGlyphs">180.500</text><text x="1723.8" y="485.9" textLength="41.3" lengthAdjust="spacingAndGlyphs">180.000</text><text x="1723.8" y="541.9" textLength="41.3" lengthAdjust="spacingAndGlyphs">179.500</text><text x="1723.3" y="596.9" textLength="28.7" lengthAdjust="spacingAndGlyphs">80.00</text><text x="1723.3" y="631.9" textLength="28.7" lengthAdjust="spacingAndGlyphs">70.00</text><text x="1723.3" y="666.9" textLength="28.7" lengthAdjust="spacingAndGlyphs">60.00</text><text x="1723.3" y="701.9" textLength="28.7" lengthAdjust="spacingAndGlyphs">50.00</text><text x="1723.3" y="736.9" textLength="28.7" lengthAdjust="spacingAndGlyphs">40.00</text><text x="1723.3" y="771.9" textLength="28.7" lengthAdjust="spacingAndGlyphs">30.00</text></g><g clip-path="url(#ctime)" font-family='"Liberation Sans", sans-serif' font-size="12" fill="#434651"><text x="54.7" y="801.8" text-anchor="middle" textLength="29.2" lengthAdjust="spacingAndGlyphs">12:00</text><text x="173.0" y="801.8" text-anchor="middle">5</text><text x="291.3" y="801.8" text-anchor="middle" textLength="29.2" lengthAdjust="spacingAndGlyphs">12:00</text><text x="409.5" y="801.8" text-anchor="middle">6</text><text x="527.8" y="801.8" text-anchor="middle" textLength="29.2" lengthAdjust="spacingAndGlyphs">12:00</text><text x="646.0" y="801.8" text-anchor="middle">9</text><text x="764.3" y="801.8" text-anchor="middle" textLength="29.2" lengthAdjust="spacingAndGlyphs">12:00</text><text x="882.5" y="801.8" text-anchor="middle">10</text><text x="1000.8" y="801.8" text-anchor="middle" textLength="29.2" lengthAdjust="spacingAndGlyphs">12:00</text><text x="1119.1" y="801.8" text-anchor="middle">11</text><text x="1237.3" y="801.8" text-anchor="middle" textLength="29.2" lengthAdjust="spacingAndGlyphs">12:00</text><text x="1355.6" y="801.8" text-anchor="middle">12</text><text x="1473.8" y="801.8" text-anchor="middle" textLength="29.2" lengthAdjust="spacingAndGlyphs">12:00</text><text x="1592.1" y="801.8" text-anchor="middle">13</text><text x="1710.3" y="801.8" text-anchor="middle" textLength="29.2" lengthAdjust="spacingAndGlyphs">12:00</text></g><defs><clipPath id="ctime"><rect x="0" y="785" width="1715" height="27"/></clipPath></defs><rect x="1716" y="71" width="52" height="31" fill="#ef5350"/><text x="1723.5" y="83.8" font-family='"Liberation Sans", sans-serif' font-size="11" font-weight="bold" fill="#fff">183.602</text><text x="1723.5" y="97.6" font-family='"Liberation Sans", sans-serif' font-size="11" font-weight="bold" fill="#fff">39:25</text><rect x="1716" y="0" width="52" height="31" fill="#fff"/><rect x="1719.5" y="1.5" width="56" height="24.5" rx="4" fill="#fff" stroke="#e0e3eb"/><text x="1723.3" y="17.9" font-family='"Liberation Sans", sans-serif' font-size="11.5" fill="#131722">JPY</text><path d="M1761 13 L1763.4 15.6 L1765.8 13" fill="none" stroke="#131722" stroke-width="1.3"/><polygon points="1752.90,799.00 1749.40,804.72 1742.40,804.72 1738.90,799.00 1742.40,793.28 1749.40,793.28" fill="none" stroke="#131722" stroke-width="1.3"/><circle cx="1745.9" cy="799" r="2.3" fill="none" stroke="#131722" stroke-width="1.3"/><circle cx="1424.4" cy="564.3" r="9.4" fill="#fff" stroke="#7b1fa2" stroke-width="1.6"/><path d="M1427.6 559.3 L1421.3 564.4 L1427.9 564.4 L1421.5 569.5" fill="none" stroke="#8e24aa" stroke-width="1.9" stroke-linejoin="round" stroke-linecap="round"/><circle cx="21.3" cy="9.3" r="5.6" fill="#1ba6c2"/><text x="21.8" y="12.2" font-family='"Liberation Sans", sans-serif' font-size="8.5" font-weight="bold" fill="#fff" text-anchor="middle">¥</text><circle cx="14.9" cy="15.9" r="7" fill="#fff"/><circle cx="14.9" cy="15.9" r="6" fill="#6a1b9a"/><text x="15" y="19.2" font-family='"Liberation Sans", sans-serif' font-size="9" font-weight="bold" fill="#fff" text-anchor="middle">£</text><text y="18.8" font-family='"Liberation Sans", sans-serif' font-size="15.2" fill="#4a4d57" id="title" x="30.9" textLength="285.6" lengthAdjust="spacingAndGlyphs">British Pound / Japanese Yen · 1h · FXCM</text><path d="M342.2 3.7 H353 V21.7 H342.2 A9 9 0 0 1 342.2 3.7 Z" fill="#dcefed"/><path d="M353 3.7 H364 A9 9 0 0 1 364 21.7 H353 Z" fill="#f7b9d0"/><circle cx="343.8" cy="12.7" r="3.9" fill="#089981"/><text x="362.4" y="17" font-family='"Liberation Sans", sans-serif' font-size="13" font-weight="bold" fill="#e91e63" text-anchor="middle">≈</text><text x="388.7" y="18" font-family='"Liberation Sans", sans-serif' font-size="12.5" fill="#434651" >O</text><text x="399.7" y="18" font-family='"Liberation Sans", sans-serif' font-size="12.5" fill="#e0524f" >183.666</text><text x="450.7" y="18" font-family='"Liberation Sans", sans-serif' font-size="12.5" fill="#434651" >H</text><text x="460" y="18" font-family='"Liberation Sans", sans-serif' font-size="12.5" fill="#e0524f" >183.674</text><text x="512" y="18" font-family='"Liberation Sans", sans-serif' font-size="12.5" fill="#434651" >L</text><text x="520" y="18" font-family='"Liberation Sans", sans-serif' font-size="12.5" fill="#e0524f" >183.533</text><text x="571.2" y="18" font-family='"Liberation Sans", sans-serif' font-size="12.5" fill="#434651" >C</text><text x="580" y="18" font-family='"Liberation Sans", sans-serif' font-size="12.5" fill="#e0524f" >183.602</text><text x="631.2" y="18" font-family='"Liberation Sans", sans-serif' font-size="12.5" fill="#e0524f" >−0.064</text><text x="675" y="18" font-family='"Liberation Sans", sans-serif' font-size="12.5" fill="#e0524f"  textLength="47.5" lengthAdjust="spacingAndGlyphs">(−0.03%)</text><rect x="8.5" y="29.5" width="60" height="23" rx="4" fill="#fff" stroke="#e57373"/><text x="17" y="45.8" font-family='"Liberation Sans", sans-serif' font-size="12.5" fill="#e0524f" >183.60</text><text x="55.2" y="43.6" font-family='"Liberation Sans", sans-serif' font-size="10.5" fill="#e0524f" >2</text><text x="78" y="45.8" font-family='"Liberation Sans", sans-serif' font-size="12" fill="#2a2e39"  textLength="14" lengthAdjust="spacingAndGlyphs">1.1</text><rect x="100.5" y="29.5" width="60" height="23" rx="4" fill="#fff" stroke="#4a72c9"/><text x="110.3" y="45.8" font-family='"Liberation Sans", sans-serif' font-size="12.5" fill="#3d66cf" >183.61</text><text x="147.5" y="43.6" font-family='"Liberation Sans", sans-serif' font-size="10.5" fill="#3d66cf" >3</text><text x="9.6" y="73.7" font-family='"Liberation Sans", sans-serif' font-size="12.5" fill="#434651"  textLength="16.4" lengthAdjust="spacingAndGlyphs">Vol</text><text x="34.5" y="73.7" font-family='"Liberation Sans", sans-serif' font-size="12.5" fill="#e0524f" >8.288K</text><text x="9.6" y="98" font-family='"Liberation Sans", sans-serif' font-size="12.5" fill="#434651"  textLength="128.6" lengthAdjust="spacingAndGlyphs">EMA 20 close 0 SMA 20</text><text x="147.6" y="98" font-family='"Liberation Sans", sans-serif' font-size="12.5" fill="#4caf50" >183.497</text><rect x="10" y="107.5" width="27.5" height="19.5" rx="3" fill="#fff" stroke="#d6d9e0"/><path d="M19.8 119.8 L23.6 116 L27.4 119.8" fill="none" stroke="#131722" stroke-width="1.5"/><text x="9.6" y="598.8" font-family='"Liberation Sans", sans-serif' font-size="12.5" fill="#434651"  textLength="121.9" lengthAdjust="spacingAndGlyphs">RSI 14 close SMA 14 2</text><text x="140.7" y="598.8" font-family='"Liberation Sans", sans-serif' font-size="12.5" fill="#131722" >58.85</text><text x="177.5" y="598.8" font-family='"Liberation Sans", sans-serif' font-size="12.5" fill="#efd84a" >64.59</text><text x="216.6" y="598.8" font-family='"Liberation Sans", sans-serif' font-size="12.5" fill="#131722"  textLength="6.8" lengthAdjust="spacingAndGlyphs">Ø</text><text x="230.8" y="598.8" font-family='"Liberation Sans", sans-serif' font-size="12.5" fill="#131722"  textLength="6.8" lengthAdjust="spacingAndGlyphs">Ø</text><path d="M12 755.1 H24.1 V770 H17.8 V762.2 H12 Z" fill="#131722"/><circle cx="29.3" cy="757.8" r="2.5" fill="#131722"/><path d="M33.6 755.1 H41.7 L37.7 770 H29.5 Z" fill="#131722"/><text x="49.4" y="770" font-family='"Liberation Sans", sans-serif' font-size="20.5" fill="#131722" stroke="#131722" stroke-width="0.7" id="tvtext" textLength="119.6" lengthAdjust="spacingAndGlyphs">TradingView</text></svg>
</body></html>
